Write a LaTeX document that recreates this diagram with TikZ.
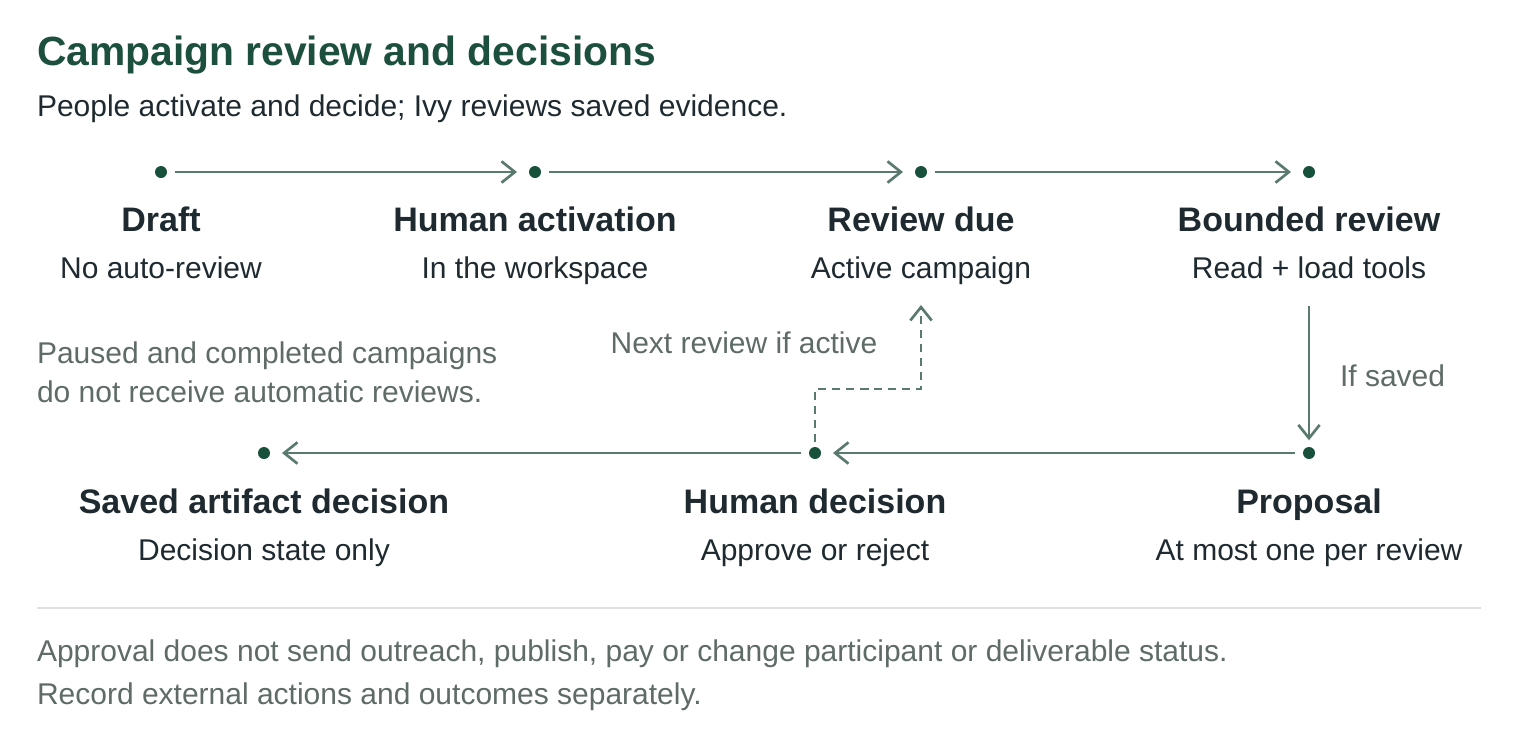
\documentclass[tikz,border=0pt]{standalone}
\usepackage{fontspec}
\setmainfont{Liberation Sans}
\usetikzlibrary{arrows.meta}
\definecolor{titlegreen}{HTML}{1D4F3E}
\definecolor{dotgreen}{HTML}{17503B}
\definecolor{linegreen}{HTML}{5B7A6E}
\definecolor{darktext}{HTML}{1F2A30}
\definecolor{graytext}{HTML}{5E6B67}
\definecolor{rulegray}{HTML}{DDE2E0}
\begin{document}
\begin{tikzpicture}[x=0.75pt,y=-0.75pt,
  every node/.style={inner sep=0pt,outer sep=0pt},
  dotnode/.style={circle,fill=dotgreen,minimum size=9pt},
  stagename/.style={anchor=base,font=\fontsize{25.5pt}{30pt}\selectfont\bfseries,text=darktext},
  stagesub/.style={anchor=base,font=\fontsize{22.5pt}{27pt}\selectfont,text=darktext},
  note/.style={anchor=base west,font=\fontsize{22.5pt}{27pt}\selectfont,text=graytext},
  flow/.style={draw=linegreen,line width=2pt,-{Straight Barb[length=10pt,width=16pt,line width=2pt]}},
  dashflow/.style={flow,dash pattern=on 6pt off 4.5pt}]
\useasboundingbox (0,0) rectangle (1517,747);
% title
\node[anchor=base west,font=\fontsize{30.6pt}{36pt}\selectfont\bfseries,text=titlegreen] (title) at (37,65) {Campaign review and decisions};
\node[anchor=base west,font=\fontsize{22.5pt}{27pt}\selectfont,text=darktext] (subtitle) at (37,116) {People activate and decide; Ivy reviews saved evidence.};
% top row dots
\node[dotnode] (d1) at (161,172) {};
\node[dotnode] (d2) at (535,172) {};
\node[dotnode] (d3) at (921,172) {};
\node[dotnode] (d4) at (1309,172) {};
% bottom row dots
\node[dotnode] (d5) at (1309,453) {};
\node[dotnode] (d6) at (815,453) {};
\node[dotnode] (d7) at (264,453) {};
% labels
\node[stagename] (l1) at (161,231) {Draft};
\node[stagesub] (s1) at (161,278) {No auto-review};
\node[stagename] (l2) at (535,231) {Human activation};
\node[stagesub] (s2) at (535,278) {In the workspace};
\node[stagename] (l3) at (921,231) {Review due};
\node[stagesub] (s3) at (921,278) {Active campaign};
\node[stagename] (l4) at (1309,231) {Bounded review};
\node[stagesub] (s4) at (1309,278) {Read + load tools};
\node[stagename] (l5) at (1309,513) {Proposal};
\node[stagesub] (s5) at (1309,560) {At most one per review};
\node[stagename] (l6) at (815,513) {Human decision};
\node[stagesub] (s6) at (815,560) {Approve or reject};
\node[stagename] (l7) at (264,513) {Saved artifact decision};
\node[stagesub] (s7) at (264,560) {Decision state only};
% connectors
\draw[flow,shorten <=6pt,shorten >=9pt] (d1) -- (d2);
\draw[flow,shorten <=6pt,shorten >=9pt] (d2) -- (d3);
\draw[flow,shorten <=6pt,shorten >=9pt] (d3) -- (d4);
\coordinate (vtop) at (1309,306);
\draw[flow,shorten >=5pt] (vtop) -- (d5);
\draw[flow,shorten <=6pt,shorten >=9pt] (d5) -- (d6);
\draw[flow,shorten <=6pt,shorten >=9pt] (d6) -- (d7);
\coordinate (rtop) at (921,305);
\draw[dashflow,shorten <=4pt] (d6) |- (868,389) -| (rtop);
% edge labels
\node[note] (ifsaved) at (1340,386) {If saved};
\node[anchor=base,font=\fontsize{22.5pt}{27pt}\selectfont,text=graytext] (nextrev) at (744,353) {Next review if active};
\node[note] (pause1) at (37,363) {Paused and completed campaigns};
\node[note] (pause2) at (37,402) {do not receive automatic reviews.};
% divider and footer
\draw[rulegray,line width=1.5pt] (37,608) -- (1481,608);
\node[note] (foot1) at (37,661) {Approval does not send outreach, publish, pay or change participant or deliverable status.};
\node[note] (foot2) at (37,704) {Record external actions and outcomes separately.};
\end{tikzpicture}
\end{document}
